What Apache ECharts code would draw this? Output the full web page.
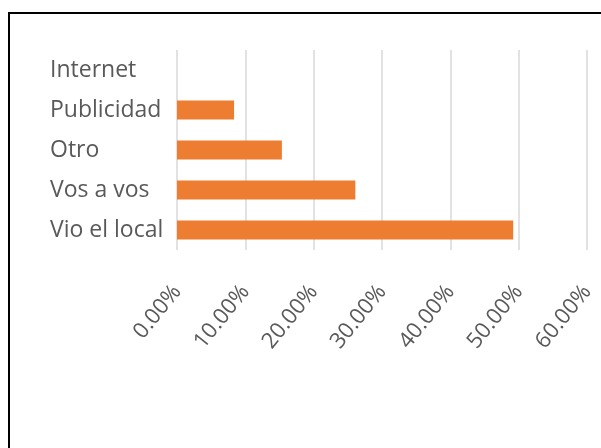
<!DOCTYPE html>
<html>
<head>
<meta charset="utf-8">
<title>Vio el local</title>
<script src="https://cdn.jsdelivr.net/npm/echarts@6/dist/echarts.min.js"></script>
<style>
  html, body { margin: 0; padding: 0; background: #fff; }
  #chart { width: 601px; height: 448px; }
  /* frame of the pasted picture: only left and top edges visible */
  .frame {
    position: absolute; left: 8px; top: 12px; right: 0; bottom: 0;
    border-left: 2px solid #000; border-top: 2px solid #000;
    pointer-events: none;
  }
</style>
</head>
<body>
<div id="chart"></div>
<div class="frame"></div>
<script>
// categories top to bottom
const categories = ['Internet', 'Publicidad', 'Otro', 'Vos a vos', 'Vio el local'];
// share of answers (fraction)
const values = [0, 0.0835, 0.1535, 0.261, 0.492];
// axis ticks
const axisMin = 0;
const axisMax = 0.6;
const axisStep = 0.1;

const chart = echarts.init(document.getElementById('chart'));

const option = {
  animation: false,
  textStyle: { fontFamily: 'Open Sans' },
  grid: {
    left: 177,
    right: 14,
    top: 50,
    bottom: 198
  },
  xAxis: {
    type: 'value',
    min: axisMin,
    max: axisMax,
    interval: axisStep,
    axisLine: { show: false },
    axisTick: { show: false },
    splitLine: { lineStyle: { color: '#d9d9d9', width: 1.5 } },
    axisLabel: {
      rotate: 51,
      margin: 38,
      color: '#595959',
      fontSize: 22,
      formatter: v => (v * 100).toFixed(2) + '%'
    }
  },
  yAxis: {
    type: 'category',
    inverse: true,
    data: categories,
    axisLine: { show: false },
    axisTick: { show: false },
    axisLabel: {
      align: 'left',
      margin: 127,
      color: '#595959',
      fontSize: 23,
      padding: [4, 0, 0, 0]
    }
  },
  series: [
    {
      type: 'bar',
      data: values,
      barWidth: 19,
      itemStyle: { color: '#ed7d31' }
    }
  ]
};

chart.setOption(option);
</script>
</body>
</html>
